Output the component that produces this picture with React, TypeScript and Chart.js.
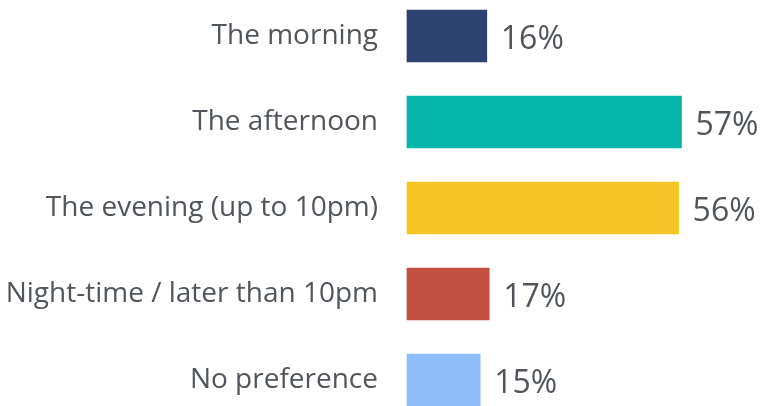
import React, { useEffect, useRef } from "react";
import { Chart, registerables } from "chart.js";

Chart.register(...registerables);

const categories = [
  "The morning",
  "The afternoon",
  "The evening (up to 10pm)",
  "Night-time / later than 10pm",
  "No preference",
];
const values = [16.45, 56.6, 56.0, 16.95, 15.1];
const valueLabels = ["16%", "57%", "56%", "17%", "15%"];
const barColors = ["#2c4270", "#05b6aa", "#f4c523", "#c34f40", "#8fbffb"];

const TEXT_COLOR = "#50555b";
const FONT = "'Open Sans', 'Noto Sans', sans-serif";

const valueLabelPlugin = {
  id: "valueLabels",
  afterDatasetsDraw(chart: any) {
    const ctx = chart.ctx;
    const meta = chart.getDatasetMeta(0);
    ctx.save();
    ctx.font = `32px ${FONT}`;
    ctx.fillStyle = TEXT_COLOR;
    ctx.textAlign = "left";
    ctx.textBaseline = "alphabetic";
    meta.data.forEach((bar: any, i: number) => {
      ctx.fillText(valueLabels[i], bar.x + 14, bar.y + 13);
    });
    ctx.restore();
  },
};

export default function App() {
  const canvasRef = useRef<HTMLCanvasElement | null>(null);

  useEffect(() => {
    document.body.style.margin = "0";
    const canvas = canvasRef.current;
    if (!canvas) return;
    const chart = new Chart(canvas, {
      type: "bar",
      data: {
        labels: categories,
        datasets: [
          {
            data: values,
            backgroundColor: barColors,
            borderWidth: 0,
            barThickness: 52,
            clip: false as any,
          },
        ],
      },
      options: {
        indexAxis: "y",
        responsive: false,
        animation: false,
        events: [],
        layout: { padding: { top: 36, bottom: 26, left: 0, right: 66 } },
        plugins: {
          legend: { display: false },
          tooltip: { enabled: false },
        },
        scales: {
          x: {
            display: false,
            min: 0,
            max: 60,
          },
          y: {
            offset: false,
            grid: { display: false, drawTicks: false },
            border: { display: false },
            ticks: {
              padding: 29,
              color: TEXT_COLOR,
              font: { family: FONT, size: 28 },
            },
            afterFit(scale: any) {
              scale.width = 407;
              scale.paddingTop = 0;
              scale.paddingBottom = 0;
            },
          },
        },
      },
      plugins: [valueLabelPlugin],
    });
    return () => chart.destroy();
  }, []);

  return (
    <div style={{ position: "absolute", left: 0, top: 0, width: 764, height: 406 }}>
      <canvas ref={canvasRef} width={764} height={406} style={{ display: "block" }} />
    </div>
  );
}
